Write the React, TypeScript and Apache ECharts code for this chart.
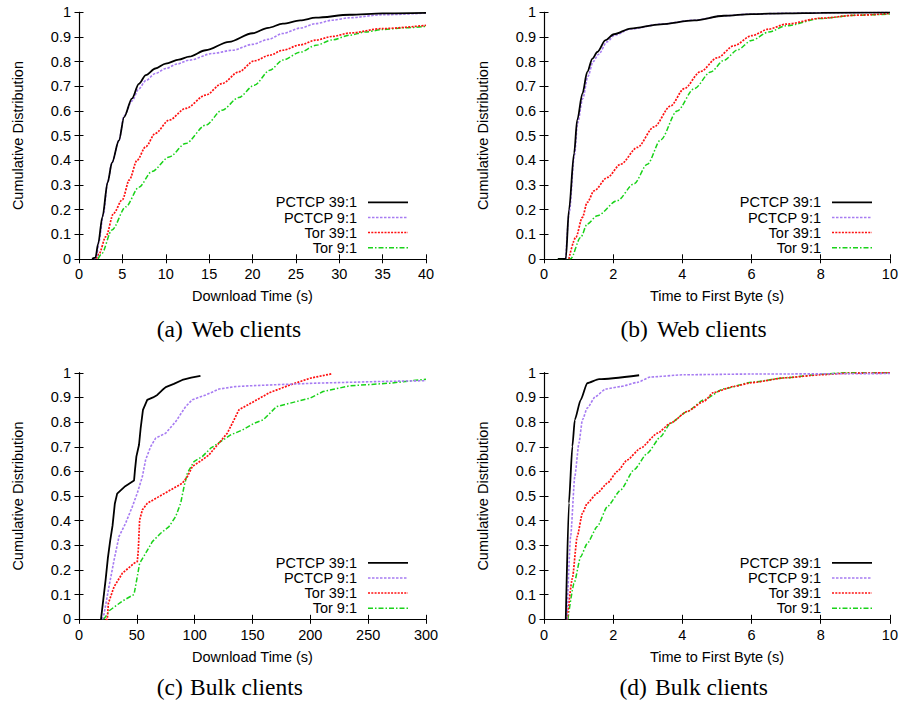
import React, { useEffect, useRef } from "react";
import * as echarts from "echarts";

// ---------- data (x, cumulative fraction) ----------
const seriesNames = ["PCTCP 39:1", "PCTCP 9:1", "Tor 39:1", "Tor 9:1"];

// (a) Web clients – download time (s)
const aPctcp39 = [[1.5,0],[1.9,0.005],[2.2,0.06],[2.7,0.17],[3.3,0.31],[3.8,0.39],[4.6,0.48],[5.2,0.575],[6.1,0.65],[6.9,0.71],[7.7,0.745],[8.8,0.772],[10,0.792],[11.5,0.808],[12.7,0.82],[14.6,0.846],[17.3,0.88],[20,0.915],[21.8,0.937],[23.5,0.954],[25.5,0.967],[27.3,0.978],[31.2,0.99],[35,0.996],[40,0.998]];
const aPctcp9 = [[1.7,0],[2.0,0.005],[2.3,0.07],[2.8,0.18],[3.3,0.31],[3.8,0.39],[4.6,0.48],[5.2,0.58],[6.1,0.64],[6.9,0.69],[7.7,0.723],[8.8,0.752],[10,0.772],[11.3,0.79],[12.7,0.806],[15.4,0.833],[17.7,0.846],[20,0.87],[21.8,0.89],[23.5,0.914],[25.5,0.936],[27.3,0.954],[29.2,0.968],[31.2,0.978],[35,0.99],[40,0.997]];
const aTor39 = [[2.0,0],[2.3,0.02],[3.1,0.09],[4.0,0.185],[5.0,0.24],[5.8,0.32],[6.7,0.4],[7.7,0.455],[8.8,0.509],[10.4,0.563],[12.3,0.61],[14.6,0.664],[16.5,0.711],[18.4,0.758],[20.2,0.803],[22,0.826],[23.5,0.846],[25.5,0.868],[27.3,0.887],[29.2,0.902],[31.2,0.916],[35,0.934],[40,0.947]];
const aTor9 = [[2.2,0],[2.6,0.02],[3.8,0.117],[5.4,0.211],[6.9,0.29],[8.4,0.354],[10.4,0.413],[12.3,0.468],[14.6,0.542],[16.5,0.603],[18.4,0.654],[20.2,0.704],[22,0.765],[23.5,0.806],[25.5,0.838],[27.3,0.866],[29.2,0.888],[31.2,0.907],[33,0.92],[35,0.93],[37.5,0.937],[40,0.943]];

// (b) Web clients – time to first byte (s)
const bPctcp39 = [[0.4,0],[0.63,0],[0.72,0.197],[0.87,0.428],[0.96,0.563],[1.11,0.67],[1.25,0.758],[1.4,0.812],[1.54,0.839],[1.78,0.887],[2.02,0.911],[2.5,0.934],[3.37,0.951],[4.34,0.967],[5.2,0.986],[6,0.993],[7,0.996],[8,0.998],[10,1]];
const bPctcp9 = [[0.63,0],[0.73,0.19],[0.88,0.42],[0.97,0.55],[1.12,0.65],[1.27,0.74],[1.42,0.8],[1.58,0.83],[1.82,0.88],[2.05,0.908],[2.5,0.932],[3.37,0.952],[4.34,0.968],[5.2,0.986],[6,0.993],[7,0.996],[8,0.998],[10,1]];
const bTor39 = [[0.72,0],[0.92,0.087],[1.11,0.168],[1.25,0.229],[1.45,0.276],[1.83,0.33],[2.22,0.384],[2.7,0.452],[3.18,0.535],[3.66,0.62],[4.05,0.69],[4.53,0.76],[5.0,0.815],[5.5,0.865],[6,0.905],[6.5,0.932],[7,0.952],[8,0.976],[9,0.988],[10,0.995]];
const bTor9 = [[0.4,0],[0.77,0],[1.06,0.087],[1.25,0.141],[1.54,0.175],[2.12,0.236],[2.6,0.304],[2.99,0.384],[3.37,0.482],[3.85,0.6],[4.34,0.69],[4.82,0.758],[5.2,0.805],[5.6,0.848],[6,0.886],[6.5,0.92],[7,0.945],[8,0.975],[9,0.988],[10,0.993]];

// (c) Bulk clients – download time (s)
const cPctcp39 = [[19,0],[21,0.08],[23,0.16],[25,0.25],[27,0.32],[29,0.38],[31,0.47],[33,0.51],[40,0.54],[47.6,0.563],[48.4,0.606],[49.6,0.66],[51.9,0.708],[53.3,0.775],[55.3,0.85],[59,0.89],[64,0.9],[67.7,0.91],[72,0.93],[75,0.942],[82,0.955],[89.3,0.971],[97,0.98],[105,0.988]];
const cPctcp9 = [[20,0],[21.6,0.02],[25.9,0.132],[30.3,0.24],[34.6,0.336],[40.3,0.39],[46.1,0.457],[50.4,0.512],[54.8,0.579],[57.6,0.647],[62,0.701],[66.3,0.735],[74.9,0.755],[83.6,0.802],[92.2,0.863],[98,0.891],[109.5,0.91],[121,0.934],[135,0.944],[151,0.948],[205,0.958],[263,0.965],[300,0.968]];
const cTor39 = [[23,0],[24.5,0],[25.4,0.065],[30.3,0.132],[37.5,0.187],[47.6,0.227],[50.4,0.234],[51.3,0.282],[52.4,0.403],[54.8,0.444],[59.1,0.471],[69.2,0.498],[79.3,0.525],[89.3,0.552],[93.7,0.579],[98,0.62],[106.6,0.647],[112.4,0.667],[121,0.715],[128.2,0.755],[134,0.809],[138.3,0.85],[151.3,0.884],[165,0.92],[182.6,0.951],[199.8,0.978],[218.5,0.996]];
const cTor9 = [[21,0],[23,0.01],[25.9,0.034],[37.5,0.074],[47.6,0.101],[50.4,0.173],[52.4,0.227],[57.6,0.268],[63.4,0.315],[70.6,0.349],[77.8,0.376],[83.6,0.417],[87.9,0.471],[90.8,0.538],[93.7,0.593],[99.4,0.64],[106.6,0.66],[113.8,0.694],[122.5,0.721],[131.1,0.748],[141.2,0.768],[151.3,0.795],[159.3,0.809],[170.8,0.863],[199.6,0.897],[211,0.924],[234,0.947],[269,0.958],[300,0.974]];

// (d) Bulk clients – time to first byte (s)
const dPctcp39 = [[0.63,0],[0.72,0.471],[0.82,0.701],[0.89,0.809],[1.06,0.89],[1.25,0.958],[1.59,0.974],[2.75,0.99]];
const dPctcp9 = [[0.66,0],[0.77,0.336],[0.89,0.579],[1.01,0.715],[1.11,0.809],[1.25,0.857],[1.49,0.904],[1.78,0.934],[2.2,0.944],[2.7,0.961],[3.08,0.983],[4.05,0.992],[6,0.995],[10,0.997]];
const dTor39 = [[0.67,0],[0.82,0.166],[0.96,0.336],[1.11,0.43],[1.25,0.471],[1.54,0.512],[1.83,0.552],[2.12,0.6],[2.41,0.647],[2.79,0.694],[3.28,0.755],[3.66,0.796],[4.14,0.843],[4.62,0.884],[4.9,0.92],[5.5,0.945],[6,0.96],[7,0.98],[8,0.992],[8.7,0.998],[10,1]];
const dTor9 = [[0.69,0],[0.87,0.146],[1.06,0.254],[1.25,0.308],[1.54,0.376],[1.83,0.457],[2.22,0.525],[2.6,0.606],[2.99,0.674],[3.37,0.741],[3.66,0.796],[4.14,0.843],[4.62,0.89],[5.2,0.935],[6,0.962],[7,0.98],[8,0.994],[8.7,1],[10,1]];

const xMaxes = [40, 10, 300, 10];
const xIntervals = [5, 2, 50, 2];
const xNames = ["Download Time (s)", "Time to First Byte (s)", "Download Time (s)", "Time to First Byte (s)"];
const yName = "Cumulative Distribution";
const captionTags = ["(a)", "(b)", "(c)", "(d)"];
const captionTexts = ["Web clients", "Web clients", "Bulk clients", "Bulk clients"];
const panelData = [
  [aPctcp39, aPctcp9, aTor39, aTor9],
  [bPctcp39, bPctcp9, bTor39, bTor9],
  [cPctcp39, cPctcp9, cTor39, cTor9],
  [dPctcp39, dPctcp9, dTor39, dTor9],
];
const panelSmooth = [0.3, 0.3, 0, 0.2];

// ---------- styles ----------
const FONT = '"Liberation Sans", Arial, Helvetica, sans-serif';
const SERIF = '"Liberation Serif", "Times New Roman", serif';
const FS = 14.5;
const colors = ["#000000", "#a77cf2", "#ff1010", "#19d219"];
const widths = [1.8, 1.6, 1.7, 1.5];
const dashes: any[] = ["solid", [2.5, 1.5], [2, 1.3], [5, 2, 1.5, 2]];

const grids = [
  { left: 79, top: 12.3, width: 347, height: 246.5 },
  { left: 544, top: 12.3, width: 346, height: 246.5 },
  { left: 79, top: 372.8, width: 347, height: 246.5 },
  { left: 544, top: 372.8, width: 346, height: 246.5 },
];
const captionTagX = [156.7, 620.5, 156.7, 619.5];
const captionTextX = [191.5, 657, 190, 655];
const captionY = [328.5, 328.5, 687, 687];

export default function App() {
  const ref = useRef<HTMLDivElement>(null);
  useEffect(() => {
    if (!ref.current) return;
    const chart = echarts.init(ref.current, undefined, { renderer: "svg" });
    const xAxis: any[] = [];
    const yAxis: any[] = [];
    const series: any[] = [];
    const graphic: any[] = [];
    const axisLine = { show: true, lineStyle: { color: "#000", width: 1.1 } };
    const axisTick = { show: true, inside: true, length: 4.5, lineStyle: { color: "#000", width: 1 } };
    grids.forEach((g, i) => {
      const base = {
        type: "value",
        gridIndex: i,
        min: 0,
        max: xMaxes[i],
        interval: xIntervals[i],
        splitLine: { show: false },
        axisLine,
        axisTick,
      };
      xAxis.push({
        ...base,
        position: "bottom",
        axisLabel: { color: "#000", fontSize: FS, fontFamily: FONT, margin: 8 },
        name: xNames[i],
        nameLocation: "middle",
        nameGap: 30,
        nameTextStyle: { color: "#000", fontSize: FS, fontFamily: FONT },
      });
      xAxis.push({ ...base, position: "top", axisLabel: { show: false } });
      const ybase = {
        type: "value",
        gridIndex: i,
        min: 0,
        max: 1,
        interval: 0.1,
        splitLine: { show: false },
        axisLine,
        axisTick,
      };
      yAxis.push({
        ...ybase,
        position: "left",
        axisLabel: {
          color: "#000",
          fontSize: FS,
          fontFamily: FONT,
          margin: 8,
          formatter: (v: number) => (v === 0 ? "0" : v >= 0.999 ? "1" : v.toFixed(1)),
        },
        name: yName,
        nameLocation: "middle",
        nameGap: 54,
        nameTextStyle: { color: "#000", fontSize: FS, fontFamily: FONT },
      });
      yAxis.push({ ...ybase, position: "right", axisLabel: { show: false } });

      panelData[i].forEach((d, k) => {
        series.push({
          type: "line",
          name: seriesNames[k],
          xAxisIndex: 2 * i,
          yAxisIndex: 2 * i,
          data: d,
          symbol: "none",
          smooth: panelSmooth[i],
          smoothMonotone: "x",
          lineStyle: { color: colors[k], width: widths[k], type: dashes[k] },
          z: 10 - k,
        });
      });

      const right = g.left + g.width;
      const bottom = g.top + g.height;
      const rowOffsets = [56.5, 41.3, 26.3, 11];
      seriesNames.forEach((nm, k) => {
        const y = bottom - rowOffsets[k];
        graphic.push({
          type: "text",
          x: right - 69,
          y,
          style: { text: nm, fill: "#000", font: `${FS}px ${FONT}`, textAlign: "right", textVerticalAlign: "middle" },
        });
        graphic.push({
          type: "line",
          shape: { x1: right - 58, y1: y, x2: right - 18, y2: y },
          style: { stroke: colors[k], lineWidth: widths[k], lineDash: dashes[k] === "solid" ? null : dashes[k] },
        });
      });
      graphic.push({
        type: "text",
        x: captionTagX[i],
        y: captionY[i],
        style: { text: captionTags[i], fill: "#000", font: `23.5px ${SERIF}`, textAlign: "left", textVerticalAlign: "middle" },
      });
      graphic.push({
        type: "text",
        x: captionTextX[i],
        y: captionY[i],
        style: { text: captionTexts[i], fill: "#000", font: `23.5px ${SERIF}`, textAlign: "left", textVerticalAlign: "middle" },
      });
    });

    chart.setOption({
      animation: false,
      backgroundColor: "#fff",
      grid: grids,
      xAxis,
      yAxis,
      series,
      graphic,
    });
    return () => chart.dispose();
  }, []);
  return (
    <div
      ref={ref}
      style={{ position: "absolute", left: 0, top: 0, width: 901, height: 702, background: "#fff" }}
    />
  );
}
